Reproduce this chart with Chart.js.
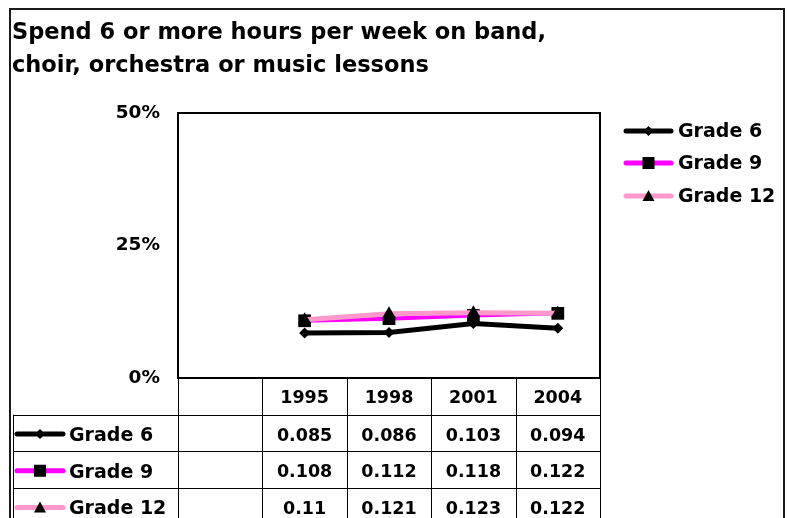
<!DOCTYPE html>
<html>
<head>
<meta charset="utf-8">
<script src="https://cdn.jsdelivr.net/npm/chart.js@4/dist/chart.umd.min.js"></script>
<style>
  html, body { margin: 0; padding: 0; background: #ffffff; }
  #wrap { width: 788px; height: 518px; position: relative; }
</style>
</head>
<body>
<div id="wrap"><canvas id="c" width="788" height="518"></canvas></div>
<script>
// Survey years (first slot is an empty category column)
const categories = ['', '1995', '1998', '2001', '2004'];
// Share of students spending 6+ hours per week on music
const grade6 = [null, 0.085, 0.086, 0.103, 0.094];
const grade9 = [null, 0.108, 0.112, 0.118, 0.122];
const grade12 = [null, 0.11, 0.121, 0.123, 0.122];
const seriesNames = ['Grade 6', 'Grade 9', 'Grade 12'];
const yTickValues = [0, 0.25, 0.5];
const titleLines = ['Spend 6 or more hours per week on band,', 'choir, orchestra or music lessons'];

const FONT = '"DejaVu Sans", Tahoma, Verdana, sans-serif';
const seriesStyle = [
  { line: '#000000', width: 5, marker: 'diamond' },
  { line: '#FF00FF', width: 4, marker: 'square' },
  { line: '#FF99CC', width: 5, marker: 'triangle' }
];
const seriesData = [grade6, grade9, grade12];

function drawMarker(ctx, kind, x, y, r) {
  ctx.save();
  ctx.fillStyle = '#000';
  ctx.beginPath();
  if (kind === 'diamond') {
    ctx.moveTo(x, y - r); ctx.lineTo(x + r, y); ctx.lineTo(x, y + r); ctx.lineTo(x - r, y);
  } else if (kind === 'square') {
    ctx.rect(x - r, y - r, 2 * r, 2 * r);
  } else {
    ctx.moveTo(x, y - r); ctx.lineTo(x + r, y + r * 0.85); ctx.lineTo(x - r, y + r * 0.85);
  }
  ctx.closePath();
  ctx.fill();
  ctx.restore();
}

function legendKey(ctx, i, x0, x1, y) {
  const s = seriesStyle[i];
  ctx.save();
  ctx.strokeStyle = s.line;
  ctx.lineWidth = 5;
  ctx.lineCap = 'round';
  ctx.beginPath(); ctx.moveTo(x0, y); ctx.lineTo(x1, y); ctx.stroke();
  ctx.restore();
  drawMarker(ctx, s.marker, (x0 + x1) / 2, y, s.marker === 'diamond' ? 5 : 6);
}

// Frame, title, plot border
const framePlugin = {
  id: 'frame',
  beforeDraw(chart) {
    const ctx = chart.ctx;
    ctx.save();
    ctx.fillStyle = '#fff';
    ctx.fillRect(0, 0, chart.width, chart.height);
    ctx.strokeStyle = '#1a1a1a';
    ctx.lineWidth = 2;
    ctx.strokeRect(10, 9, 774, 530);
    ctx.fillStyle = '#000';
    ctx.font = 'bold 22.5px ' + FONT;
    ctx.textBaseline = 'alphabetic';
    ctx.textAlign = 'left';
    ctx.fillText(titleLines[0], 12, 39);
    ctx.fillText(titleLines[1], 12, 72);
    ctx.restore();
  },
  beforeDatasetsDraw(chart) {
    const a = chart.chartArea, ctx = chart.ctx;
    ctx.save();
    ctx.strokeStyle = '#000';
    ctx.lineWidth = 2;
    ctx.strokeRect(a.left, a.top, a.right - a.left, a.bottom - a.top);
    ctx.restore();
  }
};

// Legend at right and data table under the plot
const tablePlugin = {
  id: 'dataTable',
  afterDraw(chart) {
    const ctx = chart.ctx, a = chart.chartArea, xs = chart.scales.x;
    const n = categories.length;
    const colW = (a.right - a.left) / n;
    const edges = [];
    for (let i = 0; i <= n; i++) edges.push(a.left + i * colW);
    const rowTop = a.bottom, rowH = 36.7;
    const rows = [rowTop, rowTop + rowH, rowTop + 2 * rowH, rowTop + 3 * rowH, rowTop + 4 * rowH];
    const tableLeft = 13;

    ctx.save();
    ctx.strokeStyle = '#000';
    ctx.lineWidth = 1;
    ctx.beginPath();
    edges.forEach(x => { const px = Math.round(x) + 0.5; ctx.moveTo(px, rowTop); ctx.lineTo(px, 530); });
    ctx.moveTo(tableLeft + 0.5, rows[1]); ctx.lineTo(tableLeft + 0.5, 530);
    for (let r = 1; r <= 3; r++) {
      const py = Math.round(rows[r]) + 0.5;
      ctx.moveTo(tableLeft, py); ctx.lineTo(Math.round(a.right) + 1, py);
    }
    ctx.stroke();

    ctx.fillStyle = '#000';
    ctx.textBaseline = 'middle';
    ctx.textAlign = 'center';
    ctx.font = 'bold 17.5px ' + FONT;
    categories.forEach((c, i) => {
      if (c) ctx.fillText(c, xs.getPixelForValue(i), (rows[0] + rows[1]) / 2 + 2);
    });
    seriesData.forEach((arr, s) => {
      const cy = (rows[s + 1] + rows[s + 2]) / 2 + 3;
      ctx.textAlign = 'center';
      ctx.font = 'bold 17.5px ' + FONT;
      arr.forEach((v, i) => {
        if (v !== null) ctx.fillText(String(v), xs.getPixelForValue(i), cy);
      });
      legendKey(ctx, s, 17, 63, cy - 2);
      ctx.textAlign = 'left';
      ctx.font = 'bold 19px ' + FONT;
      ctx.fillText(seriesNames[s], 69, cy);
    });

    // legend
    const ly = [131, 163, 196];
    ctx.font = 'bold 19px ' + FONT;
    seriesNames.forEach((name, s) => {
      legendKey(ctx, s, 626, 671, ly[s]);
      ctx.textAlign = 'left';
      ctx.fillText(name, 678, ly[s] + 1);
    });
    ctx.restore();
  }
};

const ds = seriesNames.map((name, i) => ({
  label: name,
  data: seriesData[i],
  borderColor: seriesStyle[i].line,
  borderWidth: seriesStyle[i].width,
  backgroundColor: '#000',
  pointBackgroundColor: '#000',
  pointBorderColor: '#000',
  pointBorderWidth: 0,
  pointStyle: ['rectRot', 'rect', 'triangle'][i],
  pointRadius: [5.5, 9, 7.5][i],
  tension: 0,
  order: 2 - i
}));

new Chart(document.getElementById('c'), {
  type: 'line',
  data: { labels: categories, datasets: ds },
  options: {
    responsive: false,
    animation: false,
    events: [],
    layout: { padding: { left: 0, right: 188, top: 113, bottom: 140 } },
    plugins: { legend: { display: false }, tooltip: { enabled: false }, title: { display: false } },
    scales: {
      x: { type: 'category', offset: true, display: false },
      y: {
        min: 0, max: 0.5,
        afterBuildTicks(scale) { scale.ticks = yTickValues.map(v => ({ value: v })); },
        afterFit(scale) { scale.width = 178; },
        grid: { display: false, drawTicks: false },
        border: { display: false },
        ticks: {
          padding: 18,
          color: '#000',
          font: { family: FONT, size: 18.5, weight: 'bold' },
          callback: v => Math.round(v * 100) + '%'
        }
      }
    }
  },
  plugins: [framePlugin, tablePlugin]
});
</script>
</body>
</html>
